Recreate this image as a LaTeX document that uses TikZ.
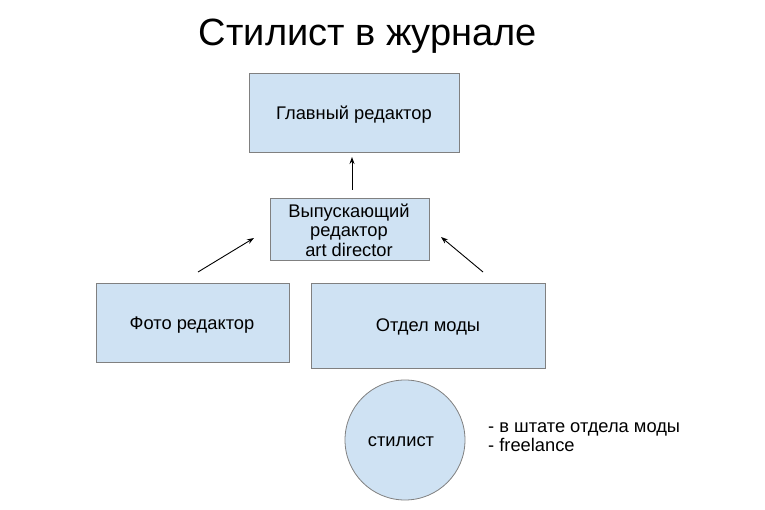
\documentclass[tikz,border=0pt]{standalone}
\usepackage{fontspec}
\setmainfont{Liberation Sans}
\usetikzlibrary{arrows.meta}
\definecolor{boxfill}{HTML}{CFE2F3}
\definecolor{boxline}{HTML}{808080}
\begin{document}
\begin{tikzpicture}[x=1pt,y=-1pt,
  box/.style={draw=boxline,fill=boxfill,line width=0.8pt},
  lbl/.style={font=\fontsize{18.3}{19.5}\selectfont,align=center,inner sep=0pt},
  arr/.style={-{Stealth[length=7pt,width=5pt]},line width=0.9pt}]
\useasboundingbox (0,0) rectangle (765,510);
\node[font=\fontsize{38}{44}\selectfont,inner sep=0pt] (title) at (368,36) {Стилист в журнале};
\draw[box] (249,73) rectangle (459,152);
\node[lbl] (glav) at (354,115) {Главный редактор};
\draw[box] (270,198) rectangle (429,260);
\node[lbl] (vyp) at (349,230) {Выпускающий\\редактор\\art director};
\draw[box] (96,283) rectangle (289,362);
\node[lbl] (foto) at (192,325) {Фото редактор};
\draw[box] (311,283) rectangle (545,368);
\node[lbl] (moda) at (428,327) {Отдел моды};
\draw[box] (405,440) circle (60);
\node[lbl] (stil) at (401,442) {стилист};
\node[lbl,align=left,anchor=west] (list) at (488,437) {- в штате отдела моды\\- freelance};
\coordinate (a1) at (352,190);
\coordinate (a2) at (352,157);
\coordinate (b1) at (198,272);
\coordinate (b2) at (254,238);
\coordinate (c1) at (483,272);
\coordinate (c2) at (441,237);
\draw[arr] (a1) -- (a2);
\draw[arr] (b1) -- (b2);
\draw[arr] (c1) -- (c2);
\end{tikzpicture}
\end{document}
